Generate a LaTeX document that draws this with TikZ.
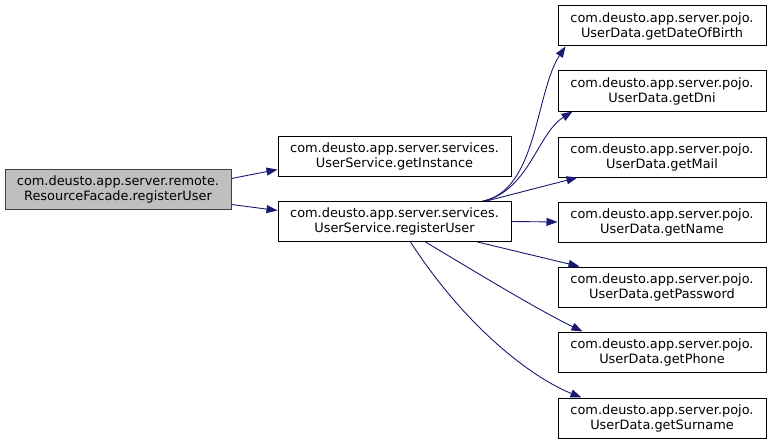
\documentclass[tikz,border=0pt]{standalone}
\usepackage{fontspec}
\setmainfont{DejaVu Sans}
\usetikzlibrary{arrows.meta}
\definecolor{edgeblue}{HTML}{191970}
\definecolor{rootfill}{HTML}{BFBFBF}
\definecolor{rootline}{HTML}{404040}
\tikzset{
  fnbox/.style={draw=black, line width=1pt, fill=white, rectangle, inner sep=0pt,
    minimum height=40pt, align=center,
    font=\fontsize{12.9}{15}\selectfont},
  rootbox/.style={fnbox, draw=rootline, fill=rootfill, minimum width=226pt},
  svcbox/.style={fnbox, minimum width=233pt},
  databox/.style={fnbox, minimum width=208pt},
  call/.style={draw=edgeblue, line width=0.9pt,
    -{Triangle[length=11pt,width=8pt,fill=edgeblue]}},
}
\begin{document}
\begin{tikzpicture}[x=1pt,y=-1pt]
\useasboundingbox (0,0) rectangle (771,444);

\node[rootbox] (root) at (118,189.5) {com.deusto.app.server.remote.\\ResourceFacade.registerUser};
\node[svcbox] (inst) at (394.5,156.5) {com.deusto.app.server.services.\\UserService.getInstance};
\node[svcbox] (reg) at (394.5,221.5) {com.deusto.app.server.services.\\UserService.registerUser};

\node[databox] (dob)  at (662,26)  {com.deusto.app.server.pojo.\\UserData.getDateOfBirth};
\node[databox] (dni)  at (662,91)  {com.deusto.app.server.pojo.\\UserData.getDni};
\node[databox] (mail) at (662,157) {com.deusto.app.server.pojo.\\UserData.getMail};
\node[databox] (name) at (662,222) {com.deusto.app.server.pojo.\\UserData.getName};
\node[databox] (pass) at (662,287) {com.deusto.app.server.pojo.\\UserData.getPassword};
\node[databox] (phone) at (662,352) {com.deusto.app.server.pojo.\\UserData.getPhone};
\node[databox] (sur)  at (662,418) {com.deusto.app.server.pojo.\\UserData.getSurname};

% calls from the facade
\draw[call] ([yshift=11pt]root.east) -- ([yshift=-13pt]inst.west);
\draw[call] ([yshift=-15pt]root.east) -- ([yshift=11pt]reg.west);

% calls from UserService.registerUser
\draw[call] ([xshift=88pt]reg.north) .. controls +(55,-10) and +(-30,45) .. ([xshift=8pt]dob.south west);
\draw[call] ([xshift=90pt]reg.north) .. controls +(45,-12) and +(-35,22) .. ([xshift=15pt]dni.south west);
\draw[call] ([xshift=92pt]reg.north) -- ([xshift=20pt]mail.south west);
\draw[call] (reg.east) -- (name.west);
\draw[call] ([xshift=83pt]reg.south) -- ([xshift=22pt]pass.north west);
\draw[call] ([xshift=31pt]reg.south) .. controls +(55,33) and +(-45,-22) .. ([xshift=25pt]phone.north west);
\draw[call] ([xshift=16pt]reg.south) .. controls +(55,85) and +(-50,-20) .. ([xshift=24pt]sur.north west);
\end{tikzpicture}
\end{document}
